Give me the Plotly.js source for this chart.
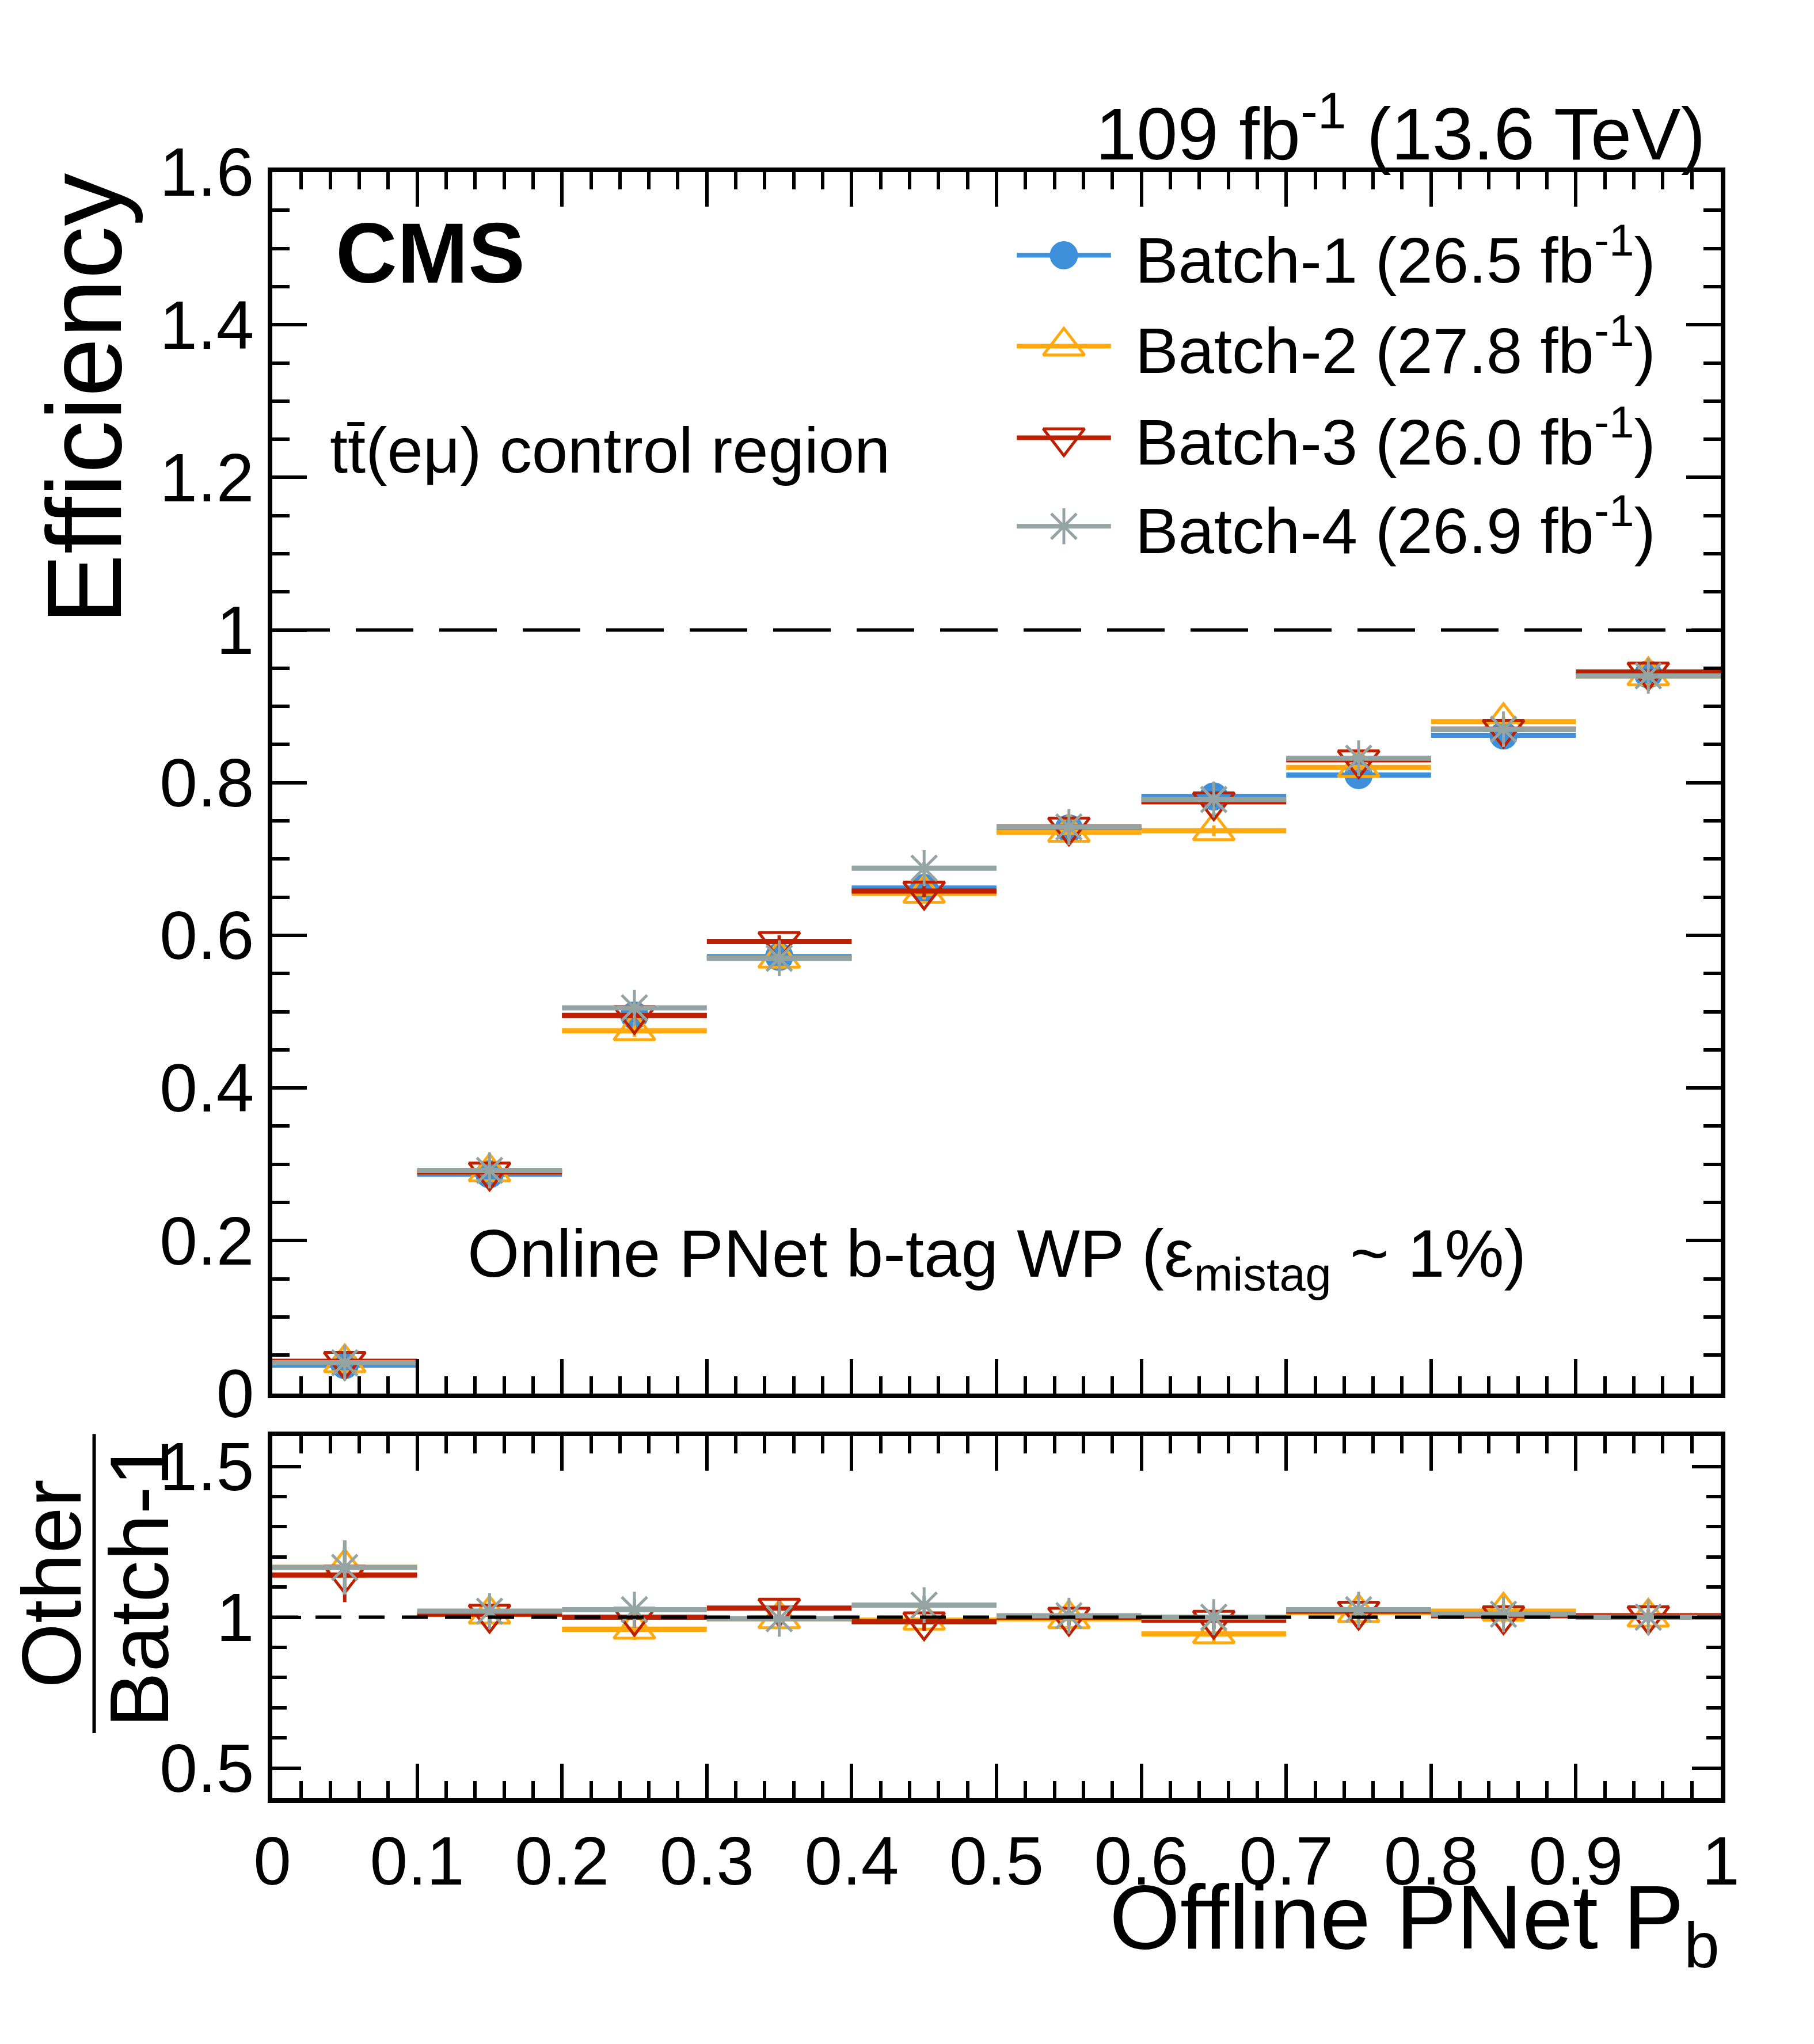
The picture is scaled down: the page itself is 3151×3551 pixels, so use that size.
<!DOCTYPE html>
<html><head><meta charset="utf-8">
<script src="https://cdn.plot.ly/plotly-3.0.1.min.js"></script>
<style>body{margin:0;background:#fff}</style></head>
<body><div id="plot" style="width:3151px;height:3551px"></div>
<script>
const binCenters = [0.05, 0.15, 0.25, 0.35, 0.45, 0.55, 0.65, 0.75, 0.85, 0.95];
const binHalf = 0.05;
const batchNames = ['Batch-1 (26.5 fb<sup>-1</sup>)', 'Batch-2 (27.8 fb<sup>-1</sup>)',
                    'Batch-3 (26.0 fb<sup>-1</sup>)', 'Batch-4 (26.9 fb<sup>-1</sup>)'];
const batchColors = ['#3f90da', '#ffa90e', '#bd1f01', '#94a4a2'];
const batchSymbols = ['circle', 'triangle-up-open', 'triangle-down-open', 'asterisk-open'];
const effB1 = [0.037, 0.287, 0.495, 0.572, 0.662, 0.740, 0.782, 0.810, 0.862, 0.942];
const effB2 = [0.040, 0.290, 0.475, 0.570, 0.655, 0.735, 0.737, 0.820, 0.880, 0.940];
const effB3 = [0.042, 0.290, 0.495, 0.592, 0.658, 0.742, 0.775, 0.830, 0.870, 0.945];
const effB4 = [0.040, 0.292, 0.505, 0.570, 0.688, 0.742, 0.778, 0.832, 0.870, 0.940];
const effErr = [0.006, 0.005, 0.008, 0.008, 0.008, 0.007, 0.007, 0.006, 0.006, 0.004];
const ratioB2 = [1.165, 1.010, 0.960, 0.995, 0.990, 0.995, 0.945, 1.015, 1.020, 1.000];
const ratioB3 = [1.140, 1.010, 1.000, 1.030, 0.985, 1.000, 0.990, 1.020, 1.005, 1.005];
const ratioB4 = [1.165, 1.020, 1.025, 0.995, 1.040, 1.005, 1.000, 1.025, 1.010, 1.000];
const ratioErr = [0.09, 0.03, 0.035, 0.03, 0.03, 0.025, 0.03, 0.025, 0.025, 0.02];
const legendRowsY = [1.491, 1.372, 1.252, 1.136];

const FONT = 'Liberation Sans, Arial, sans-serif';
const effs = [effB1, effB2, effB3, effB4];
const ratios = [null, ratioB2, ratioB3, ratioB4];

function markerFor(k) {
    return { symbol: batchSymbols[k], color: batchColors[k], size: k === 0 ? 44 : (k === 3 ? 52 : 62),
             line: { color: batchColors[k], width: 5 } };
}

function histTrace(y, err, k, xa, ya) {
    return {
        x: binCenters, y: y, xaxis: xa, yaxis: ya,
        type: 'scatter', mode: 'markers', showlegend: false, cliponaxis: false,
        marker: markerFor(k),
        error_x: { type: 'constant', value: binHalf, width: 0, thickness: 9, color: batchColors[k] },
        error_y: { type: 'data', array: err, width: 0, thickness: 6, color: batchColors[k] },
    };
}

const traces = [];
for (let k = 0; k < 4; k++) traces.push(histTrace(effs[k], effErr, k, 'x', 'y'));
for (let k = 1; k < 4; k++) traces.push(histTrace(ratios[k], ratioErr, k, 'x2', 'y2'));

// legend entries drawn on the main axes
const annotations = [];
for (let k = 0; k < 4; k++) {
    traces.push({ x: [0.514, 0.579], y: [legendRowsY[k], legendRowsY[k]], xaxis: 'x', yaxis: 'y',
        mode: 'lines', showlegend: false, line: { color: batchColors[k], width: 8 } });
    traces.push({ x: [0.5465], y: [legendRowsY[k]], xaxis: 'x', yaxis: 'y', mode: 'markers',
        showlegend: false, marker: markerFor(k) });
    annotations.push({ x: 0.595, y: legendRowsY[k], xref: 'x', yref: 'y', xanchor: 'left', yanchor: 'middle',
        text: batchNames[k], showarrow: false, font: { family: FONT, size: 112, color: '#000' } });
}

const txt = (t, x, y, size, xanchor, extra) => Object.assign({ x, y, xref: 'x', yref: 'y', text: t,
    showarrow: false, xanchor, yanchor: 'middle', font: { family: FONT, size, color: '#000' } }, extra || {});
annotations.push(txt('<b>CMS</b>', 0.043, 1.494, 148, 'left'));
annotations.push(txt('t\u0304t(eμ) control region'.replace('t\u0304t', 'tt\u0304'), 0.039, 1.235, 112, 'left'));
annotations.push(txt('Online PNet b-tag WP (ε<sub>mistag</sub> ~ 1%)', 0.50, 0.177, 116, 'center'));

const ptxt = (t, x, y, size, xanchor, yanchor, angle) => ({ x, y, xref: 'paper', yref: 'paper', text: t,
    showarrow: false, xanchor, yanchor, textangle: angle || 0, font: { family: FONT, size, color: '#000' } });
annotations.push(ptxt('109 fb<sup>-1</sup> (13.6 TeV)', 0.99, 1.027, 128, 'right', 'middle'));
annotations.push(ptxt('Offline PNet P<sub>b</sub>', 1.0, -0.077, 158, 'right', 'middle'));
annotations.push(ptxt('Efficiency', -0.13, 1.0, 184, 'center', 'top', -90));
annotations.push(ptxt('Other', -0.152, 0.132, 145, 'center', 'middle', -90));
annotations.push(ptxt('Batch-1', -0.0917, 0.132, 145, 'center', 'middle', -90));

const shapes = [
    { type: 'line', xref: 'x', yref: 'y', x0: 0, x1: 1, y0: 1, y1: 1,
      line: { color: '#000', width: 6, dash: '100px,45px' } },
    { type: 'line', xref: 'x2', yref: 'y2', x0: 0, x1: 1, y0: 1, y1: 1,
      line: { color: '#000', width: 6, dash: '45px,30px' } },
    { type: 'line', xref: 'paper', yref: 'paper', x0: -0.123, x1: -0.123, y0: 0.04, y1: 0.224,
      line: { color: '#000', width: 6 } },
];

const axBase = { showgrid: false, zeroline: false, showline: true, mirror: 'ticks', linecolor: '#000',
    linewidth: 8, ticks: 'inside', tickwidth: 6, tickcolor: '#000',
    tickfont: { family: FONT, size: 118, color: '#000' } };
const minorOf = (d, len) => ({ dtick: d, ticks: 'inside', ticklen: len, tickwidth: 6, tickcolor: '#000' });

const layout = {
    width: 3151, height: 3551, paper_bgcolor: '#fff', plot_bgcolor: '#fff',
    margin: { l: 473, r: 162, t: 299, b: 427 }, showlegend: false,
    xaxis: Object.assign({}, axBase, { domain: [0, 1], range: [0, 1], dtick: 0.1, ticklen: 60,
        showticklabels: false, anchor: 'y', minor: minorOf(0.02, 30) }),
    yaxis: Object.assign({}, axBase, { domain: [0.249, 1], range: [0, 1.6], dtick: 0.2, ticklen: 60,
        anchor: 'x', minor: minorOf(0.05, 30) }),
    xaxis2: Object.assign({}, axBase, { domain: [0, 1], range: [0, 1], dtick: 0.1, ticklen: 60,
        anchor: 'y2', minor: minorOf(0.02, 30) }),
    yaxis2: Object.assign({}, axBase, { domain: [0, 0.2226], range: [0.4, 1.6], dtick: 0.5, ticklen: 50,
        anchor: 'x2', minor: minorOf(0.1, 25) }),
    annotations, shapes,
};

Plotly.newPlot('plot', traces, layout, { displayModeBar: false, staticPlot: true });
</script></body></html>
